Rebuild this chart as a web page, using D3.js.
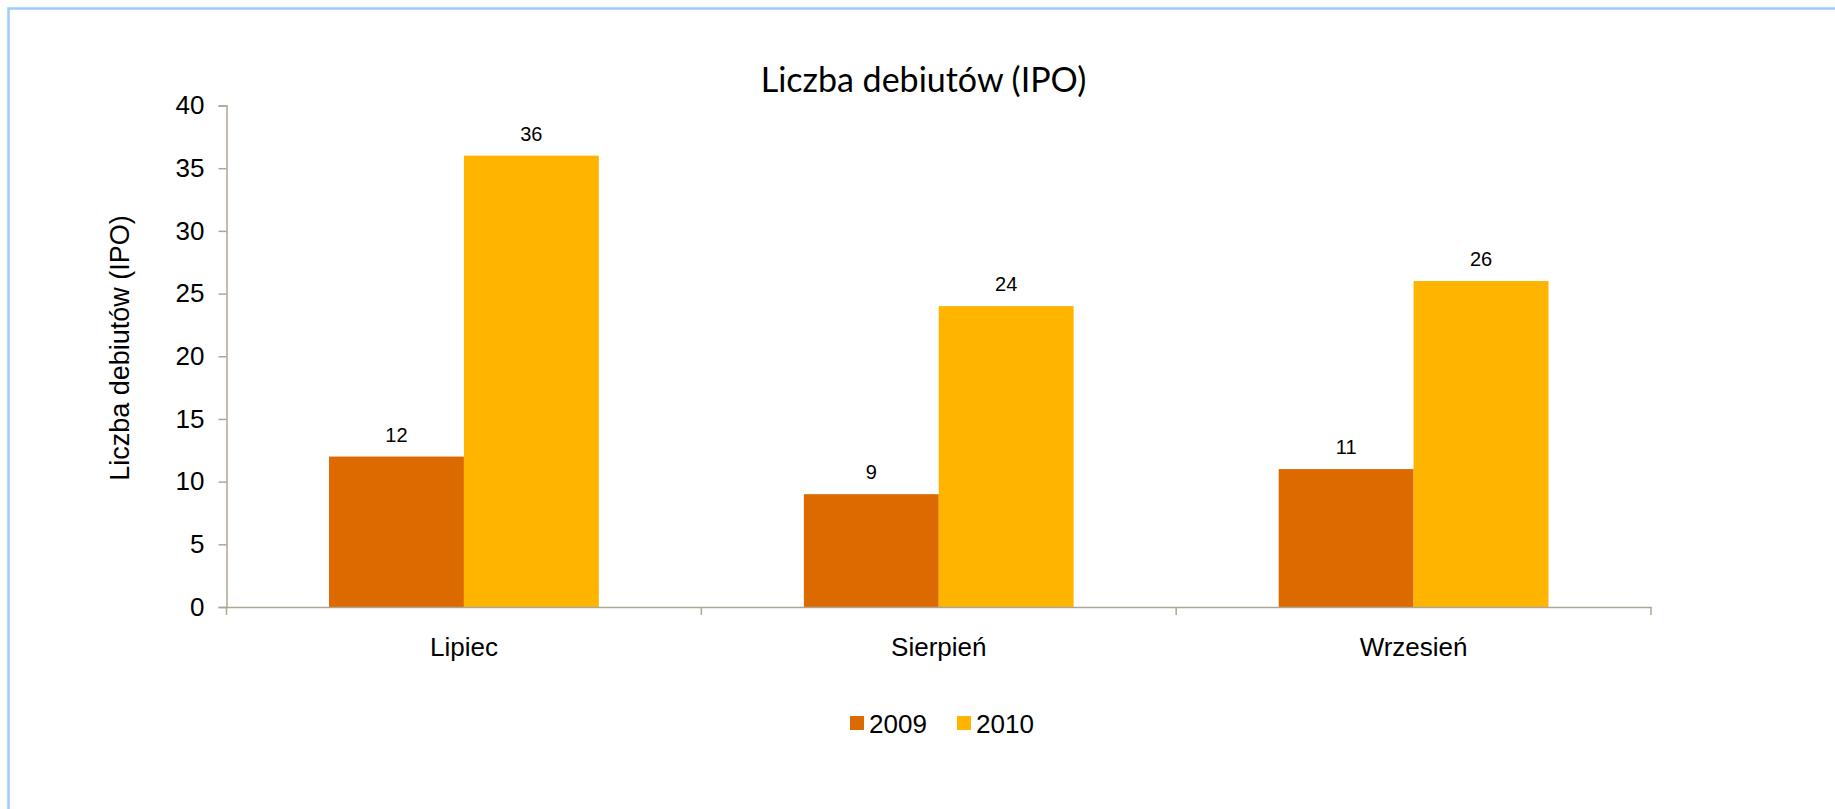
<!DOCTYPE html>
<html>
<head>
<meta charset="utf-8">
<script src="https://cdn.jsdelivr.net/npm/d3@7"></script>
<style>
  body { margin: 0; background: #fff; }
  svg { display: block; }
  text { font-family: "Liberation Sans", Arial, sans-serif; fill: #000; }
</style>
</head>
<body>
<svg id="chart"></svg>
<script>
let months = ["Lipiec", "Sierpień", "Wrzesień"];
let seriesNames = ["2009", "2010"];
let values2009 = [12, 9, 11];
let values2010 = [36, 24, 26];
let yTicks = [0, 5, 10, 15, 20, 25, 30, 35, 40];
let colors = ["#DC6A00", "#FFB500"];

let w = 1835;
let h = 809;
let svg = d3.select('#chart').attr('width', w).attr('height', h);

// frame lines (left and top only)
svg.append('path')
    .attr('d', 'M8.5,809 V8.5 H1835')
    .attr('fill', 'none')
    .attr('stroke', '#9DCBFF')
    .attr('stroke-width', 2.5);

let plotLeft = 226.5, plotRight = 1651, plotTop = 105.5, plotBottom = 607;

let x0 = d3.scaleBand().domain(months).range([plotLeft, plotRight]).padding(0);
let x1 = d3.scaleBand().domain(seriesNames).range([0, x0.bandwidth()])
    .paddingInner(0).paddingOuter(0.76);
let y = d3.scaleLinear().domain([0, 40]).range([plotBottom, plotTop]);

let rows = months.map((m, i) => ({ month: m, vals: [values2009[i], values2010[i]] }));

// title
svg.append('text')
    .attr('x', 923.5).attr('y', 92)
    .attr('text-anchor', 'middle')
    .style('font-family', 'Lato, "Open Sans", sans-serif')
    .style('font-size', '34px')
    .text('Liczba debiutów (IPO)');

// y axis title
svg.append('text')
    .attr('transform', 'translate(129,348) rotate(-90)')
    .attr('text-anchor', 'middle')
    .style('font-size', '27px')
    .text('Liczba debiutów (IPO)');

// bars
let groups = svg.selectAll('g.grp')
    .data(rows)
    .enter()
    .append('g')
    .attr('class', 'grp')
    .attr('transform', d => 'translate(' + x0(d.month) + ',0)');

groups.selectAll('rect')
    .data(d => d.vals.map((v, i) => ({ name: seriesNames[i], v: v, i: i })))
    .enter()
    .append('rect')
    .attr('x', d => x1(d.name))
    .attr('y', d => y(d.v))
    .attr('width', x1.bandwidth())
    .attr('height', d => y(0) - y(d.v))
    .attr('fill', d => colors[d.i]);

groups.selectAll('text.lbl')
    .data(d => d.vals.map((v, i) => ({ name: seriesNames[i], v: v })))
    .enter()
    .append('text')
    .attr('class', 'lbl')
    .attr('x', d => x1(d.name) + x1.bandwidth() / 2)
    .attr('y', d => y(d.v) - 15)
    .attr('text-anchor', 'middle')
    .style('font-size', '20px')
    .text(d => d.v);

// y axis
let yAxis = svg.append('g')
    .attr('transform', 'translate(' + plotLeft + ',0)')
    .call(d3.axisLeft(y).tickValues(yTicks).tickSize(8).tickPadding(14).tickSizeOuter(8));
yAxis.selectAll('text').style('font-size', '26px').style('font-family', '"Liberation Sans", Arial, sans-serif').attr('fill', '#000');
yAxis.selectAll('line').attr('stroke', '#ADA792').attr('stroke-width', 1.5);
yAxis.select('.domain').attr('stroke', '#ADA792').attr('stroke-width', 1.5);

// x axis
let xAxis = svg.append('g')
    .attr('transform', 'translate(0,' + plotBottom + ')')
    .call(d3.axisBottom(x0).tickSize(0).tickSizeOuter(0).tickPadding(0));
xAxis.select('.domain').attr('stroke', '#ADA792').attr('stroke-width', 1.5);
xAxis.selectAll('text')
    .attr('y', 49).attr('dy', 0)
    .style('font-size', '26px')
    .style('font-family', '"Liberation Sans", Arial, sans-serif')
    .attr('fill', '#000');
// category separators
let sepX = [plotLeft].concat(months.map(m => x0(m) + x0.bandwidth()));
xAxis.selectAll('line.sep')
    .data(sepX)
    .enter()
    .append('line')
    .attr('class', 'sep')
    .attr('x1', d => d).attr('x2', d => d)
    .attr('y1', 0).attr('y2', 8)
    .attr('stroke', '#ADA792')
    .attr('stroke-width', 1.5);

// legend
let legendX = [850, 957];
let legend = svg.selectAll('g.leg')
    .data(seriesNames)
    .enter()
    .append('g')
    .attr('class', 'leg')
    .attr('transform', (d, i) => 'translate(' + legendX[i] + ',716)');
legend.append('rect')
    .attr('width', 14).attr('height', 14)
    .attr('fill', (d, i) => colors[i]);
legend.append('text')
    .attr('x', 19).attr('y', 17)
    .style('font-size', '26px')
    .text(d => d);
</script>
</body>
</html>
